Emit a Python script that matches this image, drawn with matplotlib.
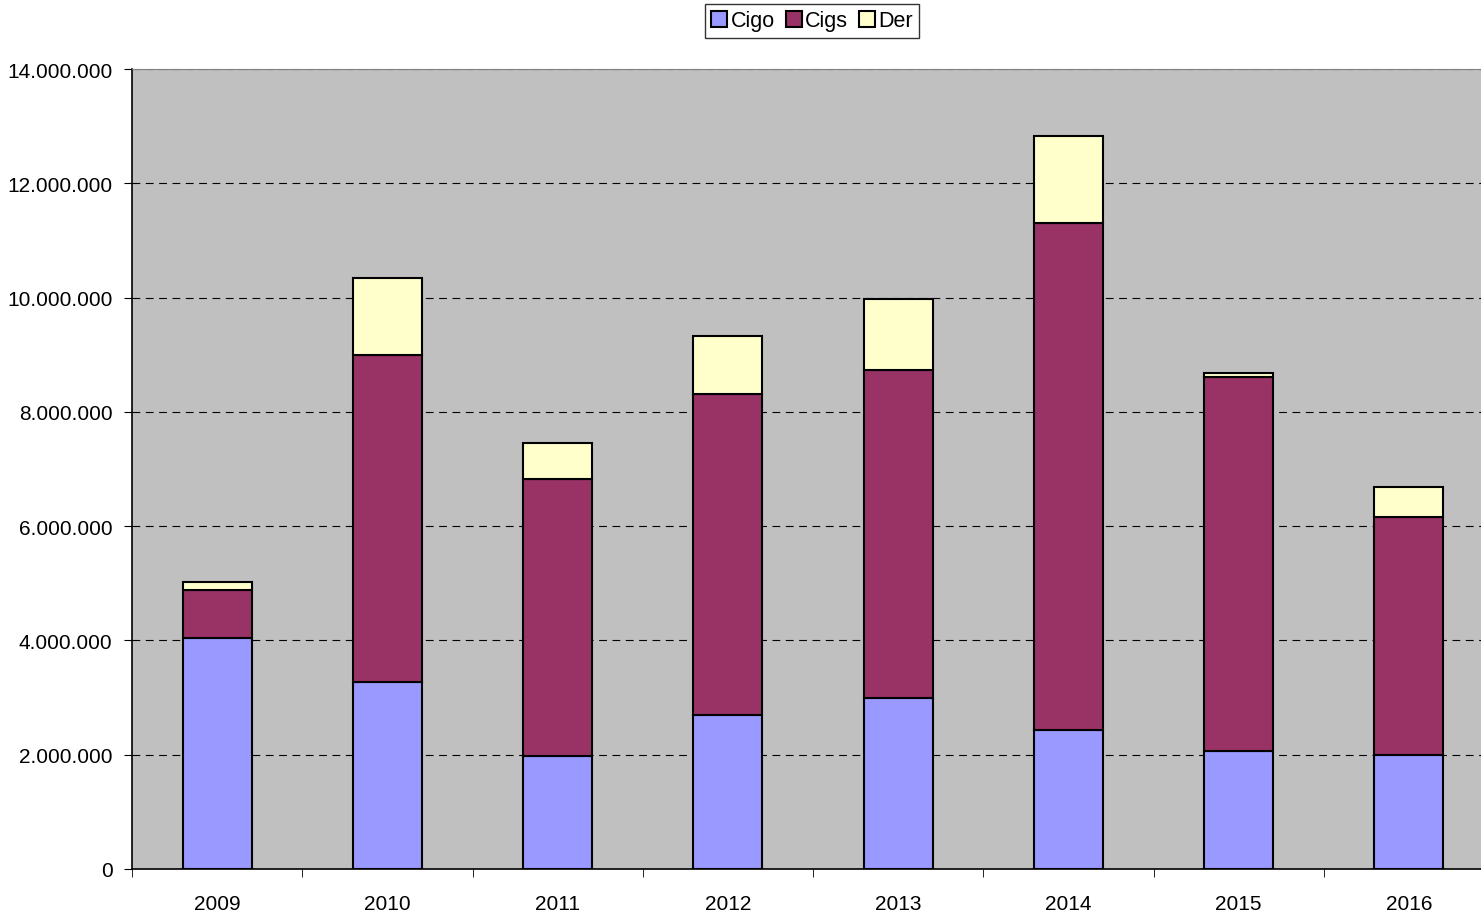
import matplotlib
matplotlib.use("Agg")
import matplotlib.pyplot as plt
import numpy as np

# Data
years = ["2009", "2010", "2011", "2012", "2013", "2014", "2015", "2016"]
cigo = [4040000, 3270000, 1980000, 2700000, 2990000, 2430000, 2070000, 2000000]
cigs = [840000, 5730000, 4850000, 5610000, 5740000, 8880000, 6540000, 4160000]
der = [140000, 1340000, 630000, 1020000, 1250000, 1520000, 70000, 530000]

plt.rcParams["font.family"] = ["Liberation Sans", "DejaVu Sans"]

fig = plt.figure(figsize=(14.81, 9.12), dpi=100)
ax = fig.add_axes([132 / 1481, 42 / 912, 1362 / 1481, 800 / 912])
ax.set_facecolor("#c0c0c0")

x = np.arange(len(years))
w = 0.405
cigo = np.array(cigo)
cigs = np.array(cigs)
der = np.array(der)

ax.bar(x, cigo, w, color="#9999ff", edgecolor="black", linewidth=1.5, label="Cigo", zorder=3)
ax.bar(x, cigs, w, bottom=cigo, color="#993366", edgecolor="black", linewidth=1.5, label="Cigs", zorder=3)
ax.bar(x, der, w, bottom=cigo + cigs, color="#ffffcc", edgecolor="black", linewidth=1.5, label="Der", zorder=3)

ax.set_xlim(-0.5, len(years) - 0.5)
ax.set_ylim(0, 14000000)
ax.set_yticks(np.arange(0, 14000001, 2000000))
ax.set_yticklabels([f"{int(v):,}".replace(",", ".") for v in np.arange(0, 14000001, 2000000)])
ax.yaxis.grid(True, color="black", linestyle=(0, (7, 5)), linewidth=0.8, zorder=1)

ax.set_xticks(x)
ax.set_xticklabels(years)
ax.set_xticks(np.arange(-0.5, len(years)), minor=True)
ax.tick_params(axis="x", which="major", length=0, labelsize=15, pad=18)
ax.tick_params(axis="x", which="minor", length=6, direction="out")
ax.tick_params(axis="y", length=6, direction="out", labelsize=15, pad=8)

for s in ["top", "right"]:
    ax.spines[s].set_color("#808080")
for s in ["left", "bottom"]:
    ax.spines[s].set_color("black")
    ax.spines[s].set_linewidth(1.2)

leg = fig.legend(loc="upper center", bbox_to_anchor=(812 / 1481, 1 - 5 / 912), ncol=3,
                 fontsize=15.5, frameon=True, fancybox=False, edgecolor="black",
                 handlelength=0.75, handleheight=0.75, handletextpad=0.15, columnspacing=0.5,
                 borderpad=0.3, borderaxespad=0)
leg.get_frame().set_linewidth(1.0)

fig.savefig("out.png", dpi=100)
